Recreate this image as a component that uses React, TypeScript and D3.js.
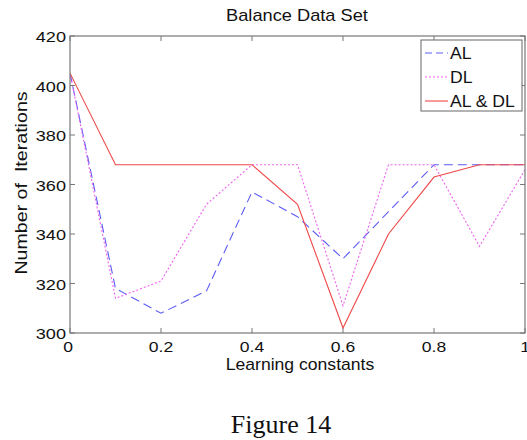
import React from "react";
import * as d3 from "d3";

// chart data
const learningRates = [0, 0.1, 0.2, 0.3, 0.4, 0.5, 0.6, 0.7, 0.8, 0.9, 1];
const alValues = [405, 318, 308, 317, 357, 347, 330, 349, 368, 368, 368];
const dlValues = [405, 314, 321, 352, 368, 368, 311, 368, 368, 335, 366];
const aldlValues = [405, 368, 368, 368, 368, 352, 302, 340, 363, 368, 368];
const xTicks = [0, 0.2, 0.4, 0.6, 0.8, 1];
const yTicks = [300, 320, 340, 360, 380, 400, 420];

const seriesNames = ["AL", "DL", "AL & DL"];
const seriesColors = ["#5c5cf5", "#f060f0", "#f04848"];
const seriesDash = ["9,5", "2,2", null];

const W = 527;
const H = 440;
const left = 70, right = 525, top = 36, bottom = 333;
const font = "Liberation Sans, Arial, sans-serif";

function App() {
  const x = d3.scaleLinear().domain([0, 1]).range([left, right]);
  const y = d3.scaleLinear().domain([300, 420]).range([bottom, top]);
  const line = d3
    .line<number>()
    .x((_, i) => x(learningRates[i]))
    .y((d) => y(d));

  const allSeries = [alValues, dlValues, aldlValues];
  const fmt = (v: number) => (v === 0 || v === 1 ? String(v) : d3.format(".1f")(v));

  return (
    <svg width={W} height={H} style={{ position: "absolute", left: 0, top: 0, background: "#fff" }}>
      <rect width={W} height={H} fill="#fff" />
      <defs>
        <clipPath id="plot">
          <rect x={left} y={top} width={right - left} height={bottom - top} />
        </clipPath>
      </defs>
      {/* lines */}
      <g clipPath="url(#plot)">
        {allSeries.map((s, i) => (
          <path
            key={i}
            d={line(s) || ""}
            fill="none"
            stroke={seriesColors[i]}
            strokeWidth={1.1}
            strokeDasharray={seriesDash[i] || undefined}
          />
        ))}
      </g>
      {/* frame */}
      <rect x={left} y={top} width={right - left} height={bottom - top} fill="none" stroke="#777" strokeWidth={1.2} />
      {/* ticks */}
      {xTicks.map((t) => (
        <g key={"x" + t}>
          <line x1={x(t)} x2={x(t)} y1={bottom} y2={bottom - 5} stroke="#777" />
          <line x1={x(t)} x2={x(t)} y1={top} y2={top + 5} stroke="#777" />
          <text
            transform={`translate(${t === 0 ? x(t) - 2 : x(t)},${bottom + 19}) scale(1.17,1)`}
            textAnchor="middle"
            fontFamily={font}
            fontSize={15}
            fill="#111"
          >
            {fmt(t)}
          </text>
        </g>
      ))}
      {yTicks.map((t) => (
        <g key={"y" + t}>
          <line x1={left} x2={left + 5} y1={y(t)} y2={y(t)} stroke="#777" />
          <line x1={right} x2={right - 5} y1={y(t)} y2={y(t)} stroke="#777" />
          <text
            transform={`translate(${left - 4},${y(t) + 6}) scale(1.17,1)`}
            textAnchor="end"
            fontFamily={font}
            fontSize={15.5}
            fill="#111"
          >
            {t}
          </text>
        </g>
      ))}
      {/* title & labels */}
      <text
        transform={`translate(297,${21}) scale(1.14,1)`}
        textAnchor="middle"
        fontFamily={font}
        fontSize={16}
        fill="#111"
      >
        Balance Data Set
      </text>
      <text
        transform={`translate(300,${369.5}) scale(1.1,1)`}
        textAnchor="middle"
        fontFamily={font}
        fontSize={16}
        fill="#111"
      >
        Learning constants
      </text>
      <text
        transform={`translate(27,183) rotate(-90) scale(1.19,1)`}
        textAnchor="middle"
        fontFamily={font}
        fontSize={16.5}
        fill="#111"
        style={{ whiteSpace: "pre" }}
      >
        Number of  Iterations
      </text>
      {/* legend */}
      <g>
        <rect x={421} y={40} width={101} height={71} fill="#fff" stroke="#666" strokeWidth={1} />
        {seriesNames.map((n, i) => {
          const ly = 53 + i * 24;
          return (
            <g key={n}>
              <line
                x1={425}
                x2={448}
                y1={ly}
                y2={ly}
                stroke={seriesColors[i]}
                strokeWidth={1.1}
                strokeDasharray={seriesDash[i] ? (i === 0 ? "7,4" : "2,2") : undefined}
              />
              <text
                transform={`translate(450,${ly + 6}) scale(1.1,1)`}
                fontFamily={font}
                fontSize={16}
                fill="#111"
              >
                {n}
              </text>
            </g>
          );
        })}
      </g>
      {/* caption */}
      <text x={281} y={433} textAnchor="middle" fontFamily="Liberation Serif, Times New Roman, serif" fontSize={26} fill="#111">
        Figure 14
      </text>
    </svg>
  );
}

export default App;
